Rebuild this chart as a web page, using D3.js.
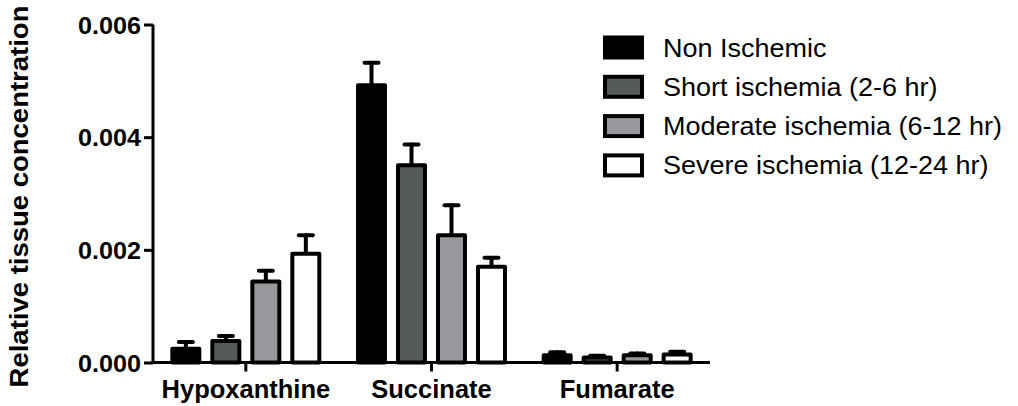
<!DOCTYPE html>
<html>
<head>
<meta charset="utf-8">
<script src="https://cdn.jsdelivr.net/npm/d3@7"></script>
<style>
  html, body { margin: 0; padding: 0; background: #fff; }
  svg { display: block; }
  text { font-family: "Liberation Sans", Arial, Helvetica, sans-serif; fill: #000; }
</style>
</head>
<body>
<svg id="chart" width="1018" height="406"></svg>
<script>
// Metabolite groups and ischemia conditions
const categories = ["Hypoxanthine", "Succinate", "Fumarate"];
const seriesNames = [
  "Non Ischemic",
  "Short ischemia (2-6 hr)",
  "Moderate ischemia (6-12 hr)",
  "Severe ischemia (12-24 hr)"
];
// Mean relative tissue concentration per series, one entry per category
const nonIschemic = [0.000245, 0.00492, 0.00013];
const shortIschemia = [0.00038, 0.00350, 0.00009];
const moderateIschemia = [0.00144, 0.00226, 0.00013];
const severeIschemia = [0.00193, 0.00170, 0.00014];
// Standard error (upper bar only)
const nonIschemicErr = [0.00012, 0.00040, 0.00005];
const shortIschemiaErr = [0.00009, 0.00037, 0.00003];
const moderateIschemiaErr = [0.00019, 0.00053, 0.00003];
const severeIschemiaErr = [0.00033, 0.00016, 0.00005];
const yTicks = [0, 0.002, 0.004, 0.006];

const seriesValues = [nonIschemic, shortIschemia, moderateIschemia, severeIschemia];
const seriesErrors = [nonIschemicErr, shortIschemiaErr, moderateIschemiaErr, severeIschemiaErr];
const fills = ["#000000", "#565a5a", "#97989c", "#ffffff"];

const svg = d3.select("#chart");

const x0 = 153, x1 = 710, yBase = 362.5, yTop = 24.5;

const x = d3.scaleBand().domain(categories).range([x0, x1]).paddingInner(0).paddingOuter(0);
const xs = d3.scaleBand().domain(d3.range(seriesNames.length)).range([-80, 80])
  .paddingInner(0.325).paddingOuter(0.1625);
const y = d3.scaleLinear().domain([0, 0.006]).range([yBase, yTop]);

const rows = [];
categories.forEach((c, ci) => {
  seriesValues.forEach((vals, si) => {
    rows.push({ c, si, v: vals[ci], e: seriesErrors[si][ci] });
  });
});

const cx = d => x(d.c) + x.bandwidth() / 2 + xs(d.si) + xs.bandwidth() / 2;

// Error bars (upper only), drawn beneath the bars
const eg = svg.append("g").attr("stroke", "#000").attr("stroke-width", 4).attr("stroke-linecap", "round");
eg.selectAll("line.stem").data(rows).join("line")
  .attr("x1", cx).attr("x2", cx)
  .attr("y1", d => y(d.v)).attr("y2", d => y(d.v + d.e));
eg.selectAll("line.cap").data(rows).join("line")
  .attr("x1", d => cx(d) - 7).attr("x2", d => cx(d) + 7)
  .attr("y1", d => y(d.v + d.e)).attr("y2", d => y(d.v + d.e));

// Bars
svg.append("g").selectAll("rect").data(rows).join("rect")
  .attr("x", d => x(d.c) + x.bandwidth() / 2 + xs(d.si))
  .attr("width", xs.bandwidth())
  .attr("y", d => y(d.v))
  .attr("height", d => yBase - y(d.v))
  .attr("fill", d => fills[d.si])
  .attr("stroke", "#000")
  .attr("stroke-width", 4)
  .attr("stroke-linejoin", "round");

// Y axis
const yAxis = svg.append("g").attr("transform", `translate(${x0},0)`)
  .call(d3.axisLeft(y).tickValues(yTicks).tickFormat(d3.format(".3f")).tickSize(9).tickPadding(3).tickSizeOuter(0));
yAxis.select(".domain").attr("stroke-width", 3).attr("d", `M0,${yTop}V${yBase + 1.5}`);
yAxis.selectAll(".tick line").attr("stroke-width", 3);
yAxis.selectAll(".tick text")
  .attr("font-size", 24).attr("font-weight", "bold").attr("fill", "#000")
  .attr("font-family", "Liberation Sans, Arial, sans-serif")
  .each(function () {
    const t = d3.select(this);
    const tx = +t.attr("x");
    t.attr("x", null).attr("transform", `translate(${tx},1) scale(1.05,1)`);
  });

// X axis
const xAxis = svg.append("g").attr("transform", `translate(0,${yBase})`)
  .call(d3.axisBottom(x).tickSize(9).tickPadding(8).tickSizeOuter(0));
xAxis.select(".domain").attr("stroke-width", 3).attr("d", `M${x0 - 1.5},0H${x1}`);
xAxis.selectAll(".tick line").attr("stroke-width", 3);
xAxis.selectAll(".tick text")
  .attr("font-size", 25).attr("font-weight", "bold").attr("fill", "#000")
  .attr("font-family", "Liberation Sans, Arial, sans-serif")
  .attr("y", null).attr("dy", null)
  .attr("transform", "translate(0,35) scale(1.02,1)");

// Y axis title
svg.append("text")
  .attr("transform", "translate(28,196.5) rotate(-90) scale(1.1,1)")
  .attr("text-anchor", "middle")
  .attr("font-size", 25).attr("font-weight", "bold")
  .text("Relative tissue concentration");

// Legend
const legend = svg.append("g");
const lg = legend.selectAll("g").data(seriesNames).join("g")
  .attr("transform", (d, i) => `translate(605,${37.5 + i * 39.3})`);
lg.append("rect")
  .attr("width", 37).attr("height", 20)
  .attr("fill", (d, i) => fills[i])
  .attr("stroke", "#000").attr("stroke-width", 4);
lg.append("text")
  .attr("transform", "translate(58,19) scale(1.08,1)")
  .attr("font-size", 25)
  .text(d => d);
</script>
</body>
</html>
